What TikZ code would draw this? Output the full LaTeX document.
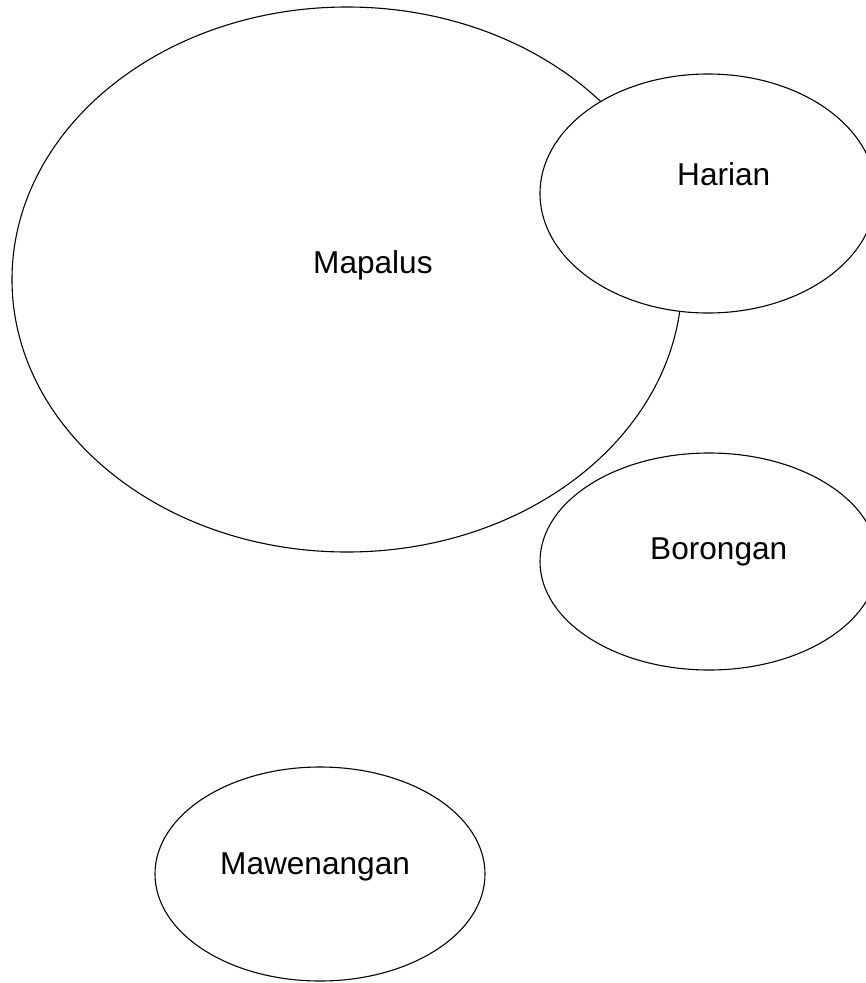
\documentclass[tikz,border=0pt]{standalone}
\usepackage{fontspec}
\setmainfont{Liberation Sans}
\usetikzlibrary{shapes.geometric}
\begin{document}
\begin{tikzpicture}[x=1pt,y=-1pt,
  oval/.style={ellipse,draw=black,fill=white,line width=1.1pt,inner sep=0pt},
  lbl/.style={anchor=base west,inner sep=0pt,font=\fontsize{31.6}{38}\selectfont}]
\useasboundingbox (0,0) rectangle (866,983);
\node[oval,minimum width=670pt,minimum height=545pt] (mapalus) at (347,279.5) {};
\node[oval,minimum width=336pt,minimum height=239pt] (harian) at (708,193.5) {};
\node[oval,minimum width=338pt,minimum height=217pt] (borongan) at (709,561.5) {};
\node[oval,minimum width=330pt,minimum height=214pt] (mawenangan) at (320,874) {};
\node[lbl] (tmapalus) at (313,273) {Mapalus};
\node[lbl] (tharian) at (677,185) {Harian};
\node[lbl] (tborongan) at (650,559) {Borongan};
\node[lbl] (tmawenangan) at (220,874) {Mawenangan};
\end{tikzpicture}
\end{document}
